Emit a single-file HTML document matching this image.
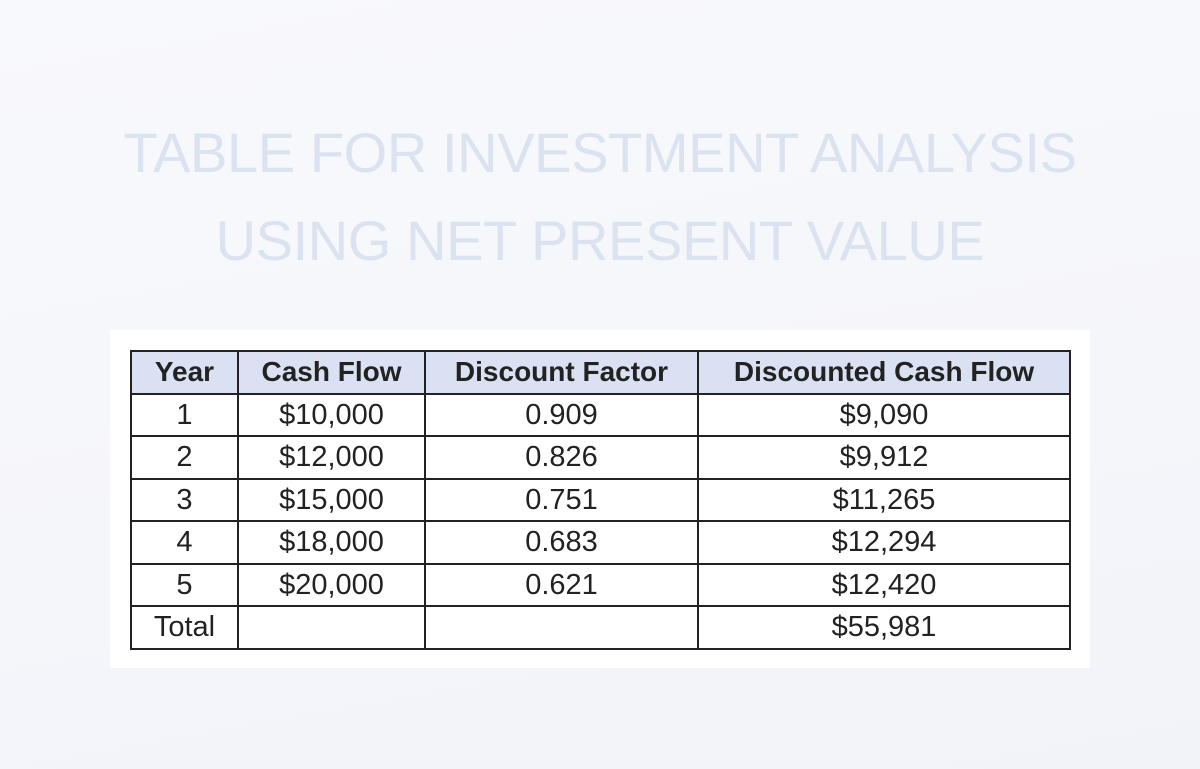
<!DOCTYPE html>
<html><head><meta charset="utf-8"><style>
html,body{margin:0;padding:0}
body{width:1200px;height:769px;overflow:hidden;position:relative;background:linear-gradient(170deg,#f8f9fc 0%,#f5f6fa 60%,#f1f3f9 100%);font-family:"Liberation Sans",sans-serif}
.title{position:absolute;left:0;width:1200px;text-align:center;color:#dbe2f0;font-size:56px;letter-spacing:-0.4px}
.card{position:absolute;left:110px;top:330px;width:980px;height:338px;background:#fff}
table{position:absolute;left:130px;top:350px;border-collapse:collapse;table-layout:fixed}
td{border:2px solid #222;height:40.5px;padding:0;text-align:center;font-size:29px;color:#222;line-height:38px}
tr.h td{background:#d9e1f2;font-weight:bold;color:#222;font-size:28px}
</style></head><body>
<div class="title" style="top:120px">TABLE FOR INVESTMENT ANALYSIS</div>
<div class="title" style="top:208px">USING NET PRESENT VALUE</div>
<div class="card"></div>
<table>
<colgroup><col style="width:107px"><col style="width:187px"><col style="width:273px"><col style="width:372px"></colgroup>
<tr class="h"><td>Year</td><td>Cash Flow</td><td>Discount Factor</td><td>Discounted Cash Flow</td></tr>
<tr><td>1</td><td>$10,000</td><td>0.909</td><td>$9,090</td></tr>
<tr><td>2</td><td>$12,000</td><td>0.826</td><td>$9,912</td></tr>
<tr><td>3</td><td>$15,000</td><td>0.751</td><td>$11,265</td></tr>
<tr><td>4</td><td>$18,000</td><td>0.683</td><td>$12,294</td></tr>
<tr><td>5</td><td>$20,000</td><td>0.621</td><td>$12,420</td></tr>
<tr><td>Total</td><td></td><td></td><td>$55,981</td></tr>
</table>
</body></html>
